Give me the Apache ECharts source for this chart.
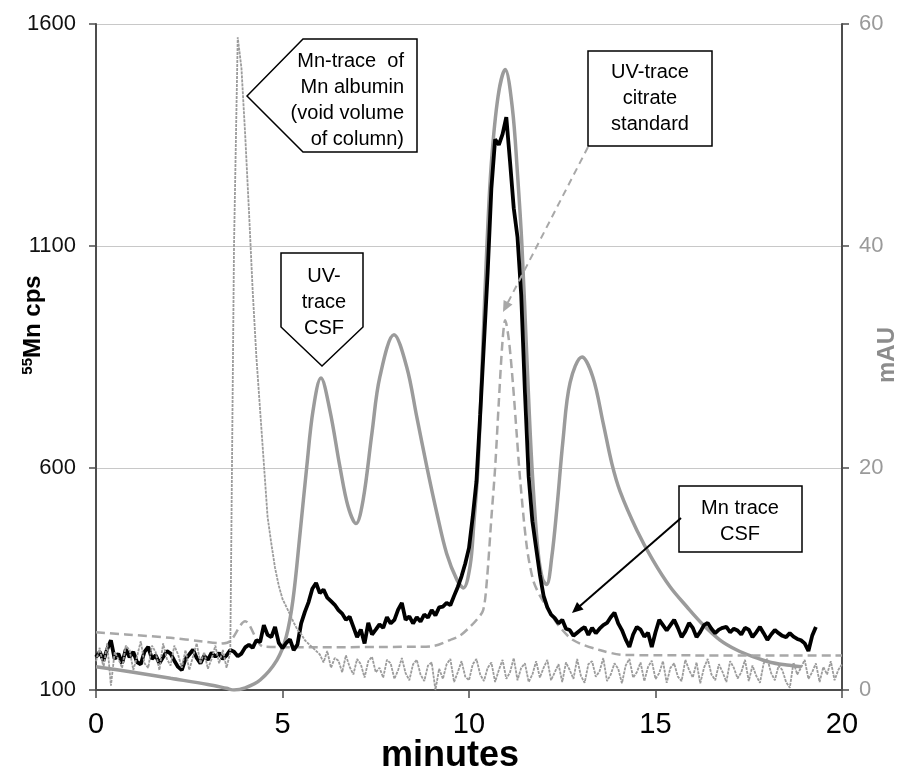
<!DOCTYPE html>
<html>
<head>
<meta charset="utf-8">
<title>Mn speciation CSF</title>
<script src="https://cdn.jsdelivr.net/npm/echarts@6/dist/echarts.min.js"></script>
<style>
  html, body { margin: 0; padding: 0; background: #fff; }
  #chart { width: 910px; height: 773px; }
</style>
</head>
<body>
<div id="chart"></div>
<script>
// axis ranges (minutes / cps / mAU)
const xRange = [0, 20, 5];
const cpsRange = [100, 1600, 500];
const mauRange = [0, 60, 20];

// 55Mn cps, CSF sample, one value every 0.1 min starting at 0
const mnCsfStep = 0.1;
const mnCsf = [
  174, 186, 166, 192, 212, 170, 182, 160, 192, 174,
  186, 163, 158, 186, 197, 170, 178, 160, 174, 188,
  182, 166, 152, 145, 170, 180, 191, 172, 160, 177,
  168, 184, 175, 183, 170, 178, 190, 186, 176, 182,
  196, 202, 195, 212, 208, 246, 224, 219, 242, 206,
  194, 206, 214, 190, 202, 250, 276, 298, 328, 341,
  318, 326, 308, 300, 292, 280, 272, 258, 265, 242,
  219, 236, 205, 251, 225, 236, 248, 240, 264, 250,
  258, 281, 296, 258, 266, 250, 264, 254, 270, 263,
  280, 268, 286, 288, 296, 291, 312, 332, 356, 385,
  420, 490, 570, 720, 880, 1040, 1230, 1340, 1328, 1352,
  1390, 1290, 1185, 1120, 990, 770, 580, 480, 420, 360,
  312, 286, 270, 262, 250, 258, 238, 235, 222, 229,
  236, 242, 224, 240, 228, 238, 246, 251, 264, 274,
  250, 235, 214, 197, 225, 242, 236, 220, 229, 197,
  230, 258, 246, 234, 246, 258, 240, 219, 232, 251,
  240, 219, 231, 246, 251, 238, 228, 236, 240, 242,
  230, 238, 234, 225, 240, 236, 219, 230, 242, 228,
  213, 225, 235, 228, 222, 219, 228, 220, 215, 212,
  205, 188, 222, 242
];

// 55Mn cps, Mn albumin run, one value every 0.1 min starting at 0
const mnAlbuminStep = 0.1;
const mnAlbumin = [
  165, 195, 150, 205, 110, 185, 170, 150, 200, 190,
  145, 175, 210, 160, 150, 200, 185, 145, 205, 170,
  155, 200, 180, 150, 190, 145, 175, 205, 160, 185,
  148, 170, 200, 160, 190, 150, 185, 1100, 1570, 1500,
  1350, 1180, 1000, 850, 730, 610, 490, 430, 375, 335,
  305, 288, 270, 252, 236, 226, 212, 204, 196, 188,
  180, 162, 188, 150, 172, 166, 140, 178, 152, 135,
  170, 158, 128, 165, 175, 140, 150, 128, 168, 160,
  125, 145, 172, 138, 122, 158, 168, 135, 120, 155,
  162, 100, 148, 125, 158, 170, 118, 140, 165, 130,
  122, 158, 170, 135, 120, 150, 162, 118, 145, 168,
  125, 140, 172, 122, 150, 160, 118, 135, 165, 128,
  150, 168, 122, 140, 158, 118, 162, 145, 125, 170,
  132, 116, 158, 165, 130, 142, 172, 120, 135, 160,
  148, 115, 155, 170, 128, 140, 162, 120, 152, 166,
  125, 138, 165, 116, 150, 160, 130, 120, 168, 145,
  128, 162, 115, 150, 170, 135, 122, 158, 140, 118,
  165, 150, 126, 140, 168, 120, 155, 132, 116, 160,
  170, 138, 122, 155, 145, 118, 105, 162, 135, 150,
  168, 125, 140, 160, 118, 152, 135, 165, 122, 145,
  158
];

// UV trace of CSF, [minutes, mAU]
const uvCsf = [
  [0, 2.1], [1, 1.6], [2, 1.05], [3, 0.5], [3.5, 0.15], [3.7, 0], [4.0, 0.2],
  [4.4, 0.9], [4.85, 2.7], [5.1, 4.8], [5.28, 8.1], [5.47, 14.1], [5.65, 20.1],
  [5.82, 25.2], [6.03, 28.1], [6.27, 25.2], [6.54, 20.1], [6.76, 16.5], [6.97, 15.0],
  [7.16, 17.1], [7.4, 23.2], [7.61, 28.2], [7.99, 32.0], [8.33, 29.1], [8.6, 24.6],
  [8.87, 20.1], [9.14, 15.9], [9.4, 12.3], [9.68, 9.9], [9.85, 9.2], [10.03, 11.2],
  [10.13, 15], [10.24, 20], [10.36, 30], [10.48, 40], [10.6, 47.5], [10.78, 53.5],
  [10.97, 55.9], [11.16, 52.5], [11.3, 46.5], [11.42, 40], [11.55, 30], [11.69, 20],
  [11.85, 12.5], [11.97, 10], [12.08, 9.5], [12.22, 12], [12.36, 16.5], [12.52, 22.5],
  [12.71, 27.7], [13.03, 30.0], [13.32, 28.2], [13.6, 24.0], [13.83, 20.4], [14.05, 17.9],
  [14.5, 14.4], [14.93, 11.7], [15.39, 9.3], [15.84, 7.5], [16.27, 5.9], [16.73, 4.5],
  [17.18, 3.6], [17.61, 3.0], [18.07, 2.5], [18.52, 2.25], [18.9, 2.1]
];

// UV trace of citrate standard, [minutes, mAU]
const uvCitrate = [
  [0, 5.2], [0.8, 5.0], [2.0, 4.7], [2.8, 4.4], [3.4, 4.2], [3.6, 4.4], [4.0, 6.2],
  [4.5, 3.9], [5.5, 3.85], [8.6, 3.9], [9.03, 3.95], [9.49, 4.5], [9.76, 4.9],
  [10.03, 5.7], [10.2, 6.3], [10.38, 7.2], [10.48, 9.9], [10.6, 15.5], [10.7, 20],
  [10.8, 26], [10.9, 31.5], [10.97, 33.3], [11.07, 31.5], [11.18, 27.5], [11.28, 23],
  [11.37, 19], [11.55, 12.9], [11.72, 9.9], [11.9, 8.5], [12.09, 7.5], [12.36, 6.0],
  [12.79, 4.5], [13.5, 3.6], [14.2, 3.15], [20, 3.1]
];

const FONT = 'Liberation Sans, Arial, sans-serif';

const toPairs = (vals, step) => vals.map((v, i) => [+(i * step).toFixed(2), v]);

// arrow: line plus a filled head at (x2, y2)
const arrow = (x1, y1, x2, y2, color, dash) => {
  const dx = x2 - x1, dy = y2 - y1;
  const len = Math.sqrt(dx * dx + dy * dy);
  const ux = dx / len, uy = dy / len;
  const hl = 11, hw = 5;
  const bx = x2 - ux * hl, by = y2 - uy * hl;
  return [
    {
      type: 'line', z: 100,
      shape: { x1: x1, y1: y1, x2: bx + ux * 2, y2: by + uy * 2 },
      style: { stroke: color, lineWidth: 2, lineDash: dash || null }
    },
    {
      type: 'polygon', z: 100,
      shape: { points: [[x2, y2], [bx - uy * hw, by + ux * hw], [bx + uy * hw, by - ux * hw]] },
      style: { fill: color, stroke: null }
    }
  ];
};

const boxStyle = { fill: '#fff', stroke: '#000', lineWidth: 1.5 };
const noteText = (x, y, text, align) => ({
  type: 'text', z: 101, x: x, y: y,
  style: {
    text: text, align: align || 'center', verticalAlign: 'middle',
    fontSize: 20, fontFamily: FONT, fill: '#000', lineHeight: 26
  }
});

const chart = echarts.init(document.getElementById('chart'));

const option = {
  animation: false,
  backgroundColor: '#fff',
  grid: { left: 96, right: 68, top: 24, bottom: 83 },
  xAxis: {
    type: 'value',
    min: xRange[0], max: xRange[1], interval: xRange[2],
    axisLine: { lineStyle: { color: '#4d4d4d', width: 2 } },
    axisTick: { length: 8, lineStyle: { color: '#4d4d4d', width: 1.5 } },
    axisLabel: { fontSize: 29, color: '#000', fontFamily: FONT, margin: 20 },
    splitLine: { show: false }
  },
  yAxis: [
    {
      type: 'value',
      min: cpsRange[0], max: cpsRange[1], interval: cpsRange[2],
      axisLine: { show: true, lineStyle: { color: '#4d4d4d', width: 2 } },
      axisTick: { show: true, length: 7, lineStyle: { color: '#4d4d4d', width: 1.5 } },
      axisLabel: { fontSize: 22, color: '#111', fontFamily: FONT, margin: 20, formatter: v => String(v) },
      splitLine: { show: true, lineStyle: { color: '#c8c8c8', width: 1 } }
    },
    {
      type: 'value',
      min: mauRange[0], max: mauRange[1], interval: mauRange[2],
      position: 'right',
      axisLine: { show: true, lineStyle: { color: '#4d4d4d', width: 2 } },
      axisTick: { show: true, length: 7, lineStyle: { color: '#4d4d4d', width: 1.5 } },
      axisLabel: { fontSize: 22, color: '#9a9a9a', fontFamily: FONT, margin: 17 },
      splitLine: { show: false }
    }
  ],
  series: [
    {
      name: 'UV-trace CSF',
      type: 'line', yAxisIndex: 1,
      data: uvCsf, smooth: 0.35, showSymbol: false,
      lineStyle: { color: '#9b9b9b', width: 3.5 }
    },
    {
      name: 'UV-trace citrate standard',
      type: 'line', yAxisIndex: 1,
      data: uvCitrate, smooth: 0.3, showSymbol: false,
      lineStyle: { color: '#a8a8a8', width: 2.5, type: [9, 5] }
    },
    {
      name: 'Mn trace CSF',
      type: 'line', yAxisIndex: 0,
      data: toPairs(mnCsf, mnCsfStep), showSymbol: false,
      lineStyle: { color: '#000', width: 3.8 }
    },
    {
      name: 'Mn-trace of Mn albumin',
      type: 'line', yAxisIndex: 0,
      data: toPairs(mnAlbumin, mnAlbuminStep), showSymbol: false,
      lineStyle: { color: '#9c9c9c', width: 1.8, type: [3, 1] }
    }
  ],
  graphic: [
    // Mn albumin callout
    { type: 'polygon', z: 100, shape: { points: [[247, 96], [303, 39], [417, 39], [417, 152], [303, 152]] }, style: boxStyle },
    noteText(404, 100, 'Mn-trace  of\nMn albumin\n(void volume\nof column)', 'right'),
    // UV CSF callout
    { type: 'polygon', z: 100, shape: { points: [[281, 253], [363, 253], [363, 327], [322, 366], [281, 327]] }, style: boxStyle },
    noteText(324, 302, 'UV-\ntrace\nCSF'),
    // citrate callout
    { type: 'rect', z: 100, shape: { x: 588, y: 51, width: 124, height: 95 }, style: boxStyle },
    noteText(650, 98, 'UV-trace\ncitrate\nstandard'),
    ...arrow(588, 147, 503, 312, '#a8a8a8', [7, 5]),
    // Mn CSF callout
    { type: 'rect', z: 100, shape: { x: 679, y: 486, width: 123, height: 66 }, style: boxStyle },
    noteText(740, 521, 'Mn trace\nCSF'),
    ...arrow(681, 518, 572, 613, '#000'),
    // axis titles
    {
      type: 'text', x: 33, y: 325, rotation: Math.PI / 2,
      style: {
        text: '{s|55}{m|Mn cps}', align: 'center', verticalAlign: 'middle',
        rich: {
          s: { fontSize: 15, fontWeight: 'bold', fontFamily: FONT, fill: '#000', verticalAlign: 'top', lineHeight: 26 },
          m: { fontSize: 24, fontWeight: 'bold', fontFamily: FONT, fill: '#000', lineHeight: 26 }
        }
      }
    },
    {
      type: 'text', x: 887, y: 355, rotation: Math.PI / 2,
      style: { text: 'mAU', align: 'center', verticalAlign: 'middle', fontSize: 24, fontWeight: 'bold', fontFamily: FONT, fill: '#8c8c8c' }
    },
    {
      type: 'text', x: 450, y: 756,
      style: { text: 'minutes', align: 'center', verticalAlign: 'middle', fontSize: 36, fontWeight: 'bold', fontFamily: FONT, fill: '#000' }
    }
  ]
};

chart.setOption(option);
</script>
</body>
</html>
